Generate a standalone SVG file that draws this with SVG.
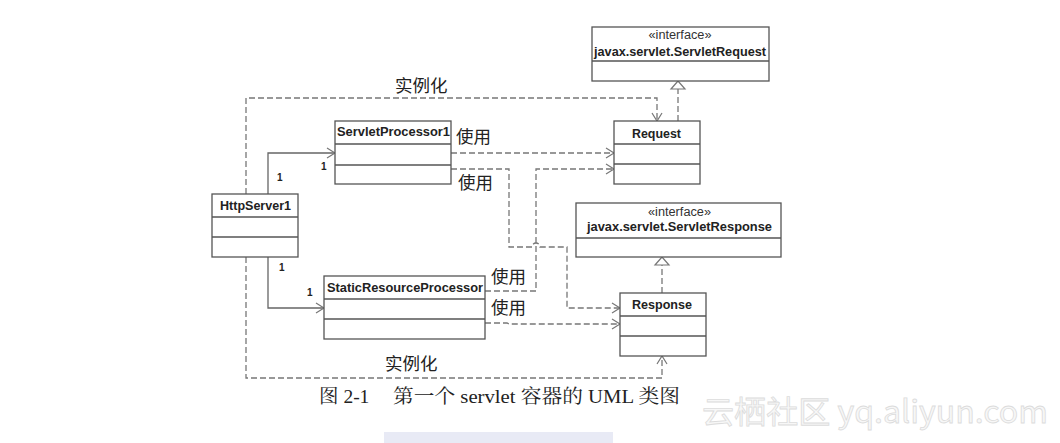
<svg xmlns="http://www.w3.org/2000/svg" width="1060" height="443" viewBox="0 0 1060 443">
<style>
.box{fill:#fff;stroke:#555;stroke-width:1.3}
.sep{stroke:#555;stroke-width:1.3}
.t{font-family:"Liberation Sans",Arial,sans-serif;font-size:12.5px;font-weight:bold;fill:#222;text-anchor:middle}
.st{font-family:"Liberation Sans",Arial,sans-serif;font-size:12px;fill:#333;text-anchor:middle}
.one{font-family:"Liberation Sans",Arial,sans-serif;font-size:10px;font-weight:bold;fill:#222}
.cn{font-family:"Noto Sans CJK SC",sans-serif;font-size:17.5px;fill:#222}
.dash{fill:none;stroke:#777;stroke-width:1.3;stroke-dasharray:6,3}
.solid{fill:none;stroke:#666;stroke-width:1.3}
.arr{fill:none;stroke:#777;stroke-width:1.2}
.tri{fill:#fff;stroke:#777;stroke-width:1.2}
.cap{font-family:"Liberation Serif","Noto Serif CJK SC","Noto Sans CJK SC",serif;font-size:19.5px;fill:#222}
.wm{font-family:"Noto Sans CJK SC","DejaVu Sans",sans-serif;font-size:31px;fill:#f7f7f7;stroke:#dcdcdc;stroke-width:0.8}
</style>
<rect width="1060" height="443" fill="#fff"/>
<rect x="384" y="432" width="229" height="11" fill="#e8eaf5"/>
<g id="connectors">
  <polyline class="dash" points="246,194 246,98 657,98 657,121"/>
  <polyline class="arr" points="652,113 657,121 662,113"/>
  <polyline class="dash" points="246,257 246,378 662,378 662,356"/>
  <polyline class="arr" points="657,364 662,356 667,364"/>
  <polyline class="solid" points="268,194 268,153 335,153"/>
  <polyline class="arr" points="327,148 335,153 327,158"/>
  <polyline class="solid" points="268,257 268,308 324,308"/>
  <polyline class="arr" points="316,303 324,308 316,313"/>
  <polyline class="dash" points="451,153 614,153"/>
  <polyline class="arr" points="606,148 614,153 606,158"/>
  <path class="dash" d="M451,169 H509 V247 H532 a4,4 0 0 1 8,0 H567 V308 H620"/>
  <polyline class="arr" points="612,303 620,308 612,313"/>
  <polyline class="dash" points="485,291 536,291 536,169 614,169"/>
  <polyline class="arr" points="606,164 614,169 606,174"/>
  <polyline class="dash" points="485,323 507,323 509,324 620,324"/>
  <polyline class="arr" points="612,319 620,324 612,329"/>
  <line class="dash" x1="678" y1="121" x2="678" y2="89"/>
  <polygon class="tri" points="678,81 671,89 685,89"/>
  <line class="dash" x1="662" y1="293" x2="662" y2="265"/>
  <polygon class="tri" points="662,257 655,265 669,265"/>
</g>
<g id="HttpServer1">
  <rect class="box" x="212" y="194" width="86" height="63"/>
  <line class="sep" x1="212" y1="217" x2="298" y2="217"/>
  <line class="sep" x1="212" y1="237" x2="298" y2="237"/>
  <text class="t" x="255.5" y="210" textLength="71" lengthAdjust="spacingAndGlyphs">HttpServer1</text>
</g>
<g id="ServletProcessor1">
  <rect class="box" x="335" y="121" width="116" height="63"/>
  <line class="sep" x1="335" y1="144" x2="451" y2="144"/>
  <line class="sep" x1="335" y1="165" x2="451" y2="165"/>
  <text class="t" x="393.5" y="136" textLength="113" lengthAdjust="spacingAndGlyphs">ServletProcessor1</text>
</g>
<g id="StaticResourceProcessor">
  <rect class="box" x="324" y="276" width="161" height="63"/>
  <line class="sep" x1="324" y1="299" x2="485" y2="299"/>
  <line class="sep" x1="324" y1="319" x2="485" y2="319"/>
  <text class="t" x="405" y="292" textLength="156" lengthAdjust="spacingAndGlyphs">StaticResourceProcessor</text>
</g>
<g id="ServletRequest">
  <rect class="box" x="592" y="27" width="177" height="54"/>
  <line class="sep" x1="592" y1="61" x2="769" y2="61"/>
  <text class="st" x="680" y="39" textLength="63" lengthAdjust="spacingAndGlyphs">«interface»</text>
  <text class="t" x="680" y="56" textLength="172" lengthAdjust="spacingAndGlyphs">javax.servlet.ServletRequest</text>
</g>
<g id="Request">
  <rect class="box" x="614" y="121" width="86" height="63"/>
  <line class="sep" x1="614" y1="144" x2="700" y2="144"/>
  <line class="sep" x1="614" y1="164" x2="700" y2="164"/>
  <text class="t" x="656.5" y="138" textLength="49" lengthAdjust="spacingAndGlyphs">Request</text>
</g>
<g id="ServletResponse">
  <rect class="box" x="576" y="203" width="205" height="54"/>
  <line class="sep" x1="576" y1="238" x2="781" y2="238"/>
  <text class="st" x="679.5" y="216" textLength="63" lengthAdjust="spacingAndGlyphs">«interface»</text>
  <text class="t" x="679.5" y="231" textLength="185" lengthAdjust="spacingAndGlyphs">javax.servlet.ServletResponse</text>
</g>
<g id="Response">
  <rect class="box" x="620" y="293" width="86" height="63"/>
  <line class="sep" x1="620" y1="316" x2="706" y2="316"/>
  <line class="sep" x1="620" y1="336" x2="706" y2="336"/>
  <text class="t" x="662" y="309" textLength="60" lengthAdjust="spacingAndGlyphs">Response</text>
</g>
<g id="labels">
  <text class="cn" x="395" y="92">实例化</text>
  <text class="cn" x="385" y="370">实例化</text>
  <text class="cn" x="456" y="143">使用</text>
  <text class="cn" x="458" y="189">使用</text>
  <text class="cn" x="491" y="283">使用</text>
  <text class="cn" x="491" y="314">使用</text>
  <text class="one" x="277" y="181">1</text>
  <text class="one" x="321" y="170">1</text>
  <text class="one" x="279" y="271">1</text>
  <text class="one" x="307" y="296">1</text>
</g>
<g id="caption">
  <text class="cap" x="319" y="403">图 2-1</text>
  <text class="cap" x="393" y="403" textLength="287" lengthAdjust="spacingAndGlyphs">第一个 servlet 容器的 UML 类图</text>
</g>
<text class="wm" x="702" y="423" textLength="346" lengthAdjust="spacingAndGlyphs">云栖社区 yq.aliyun.com</text>
</svg>
